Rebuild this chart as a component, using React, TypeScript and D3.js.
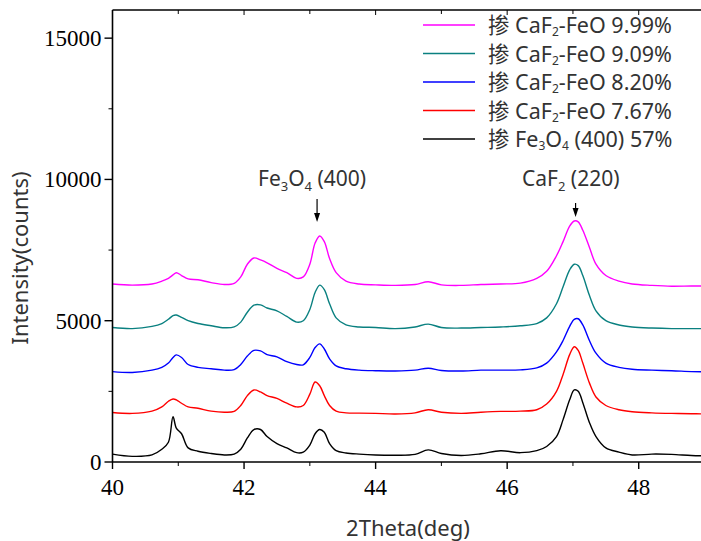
import React from "react";
import * as d3 from "d3";

const xs = [40, 40.3, 40.6, 40.75, 40.85, 40.92, 40.97, 41.05, 41.15, 41.3, 41.5, 41.7, 41.85, 41.95, 42.05, 42.15, 42.25, 42.35, 42.5, 42.65, 42.8, 42.9, 43.0, 43.08, 43.15, 43.22, 43.3, 43.4, 43.55, 43.75, 44.0, 44.3, 44.6, 44.8, 45.0, 45.3, 45.6, 45.9, 46.2, 46.45, 46.6, 46.75, 46.85, 46.95, 47.02, 47.08, 47.15, 47.25, 47.35, 47.5, 47.7, 47.9, 48.2, 48.5, 48.8, 49];

const blackVals = [280, 200, 250, 450, 700, 1600, 1200, 1000, 500, 380, 300, 250, 280, 450, 850, 1150, 1150, 900, 650, 500, 330, 350, 600, 1000, 1150, 1050, 650, 400, 320, 280, 250, 240, 270, 430, 300, 230, 290, 400, 330, 400, 550, 900, 1500, 2200, 2550, 2500, 2100, 1400, 900, 500, 350, 250, 280, 270, 230, 220];
const redVals = [1750, 1720, 1800, 1950, 2150, 2230, 2200, 2080, 1950, 1900, 1800, 1760, 1790, 2000, 2350, 2550, 2480, 2350, 2250, 2080, 1950, 2000, 2400, 2830, 2700, 2350, 2000, 1800, 1740, 1730, 1720, 1700, 1740, 1850, 1760, 1720, 1760, 1790, 1800, 1850, 2050, 2500, 3100, 3800, 4080, 3950, 3500, 2800, 2300, 2000, 1850, 1780, 1740, 1720, 1710, 1700];
const blueVals = [3200, 3170, 3250, 3350, 3500, 3700, 3790, 3700, 3450, 3350, 3300, 3250, 3270, 3450, 3750, 3950, 3930, 3800, 3720, 3550, 3450, 3440, 3700, 4050, 4180, 4000, 3650, 3400, 3300, 3250, 3230, 3220, 3250, 3320, 3240, 3220, 3250, 3250, 3260, 3330, 3500, 3900, 4300, 4800, 5050, 5070, 4850, 4300, 3850, 3500, 3350, 3280, 3250, 3230, 3200, 3190];
const tealVals = [4760, 4720, 4800, 4900, 5050, 5180, 5200, 5120, 5000, 4900, 4820, 4750, 4780, 4950, 5300, 5550, 5560, 5450, 5350, 5150, 4950, 5000, 5400, 6000, 6260, 6100, 5600, 5100, 4850, 4780, 4760, 4720, 4780, 4880, 4760, 4740, 4760, 4780, 4820, 4900, 5100, 5600, 6200, 6800, 7000, 6950, 6600, 5900, 5350, 5000, 4850, 4780, 4740, 4720, 4720, 4720];
const magentaVals = [6300, 6260, 6300, 6400, 6500, 6620, 6700, 6600, 6480, 6450, 6350, 6280, 6320, 6550, 7000, 7220, 7150, 7050, 6850, 6700, 6500, 6550, 7000, 7750, 8000, 7800, 7200, 6700, 6400, 6300, 6270, 6250, 6280, 6380, 6270, 6250, 6280, 6300, 6330, 6500, 6750, 7300, 7800, 8350, 8530, 8500, 8200, 7600, 7000, 6600, 6400, 6300, 6250, 6220, 6230, 6230];

const xTicks = [40, 42, 44, 46, 48];
const xMinor = [41, 43, 45, 47, 49];
const yTicks = [0, 5000, 10000, 15000];
const yMinor = [2500, 7500, 12500];

const legendItems = [
  { color: "#ff00ff", vals: magentaVals, parts: ["CaF", "2", "-FeO 9.99%"] },
  { color: "#0a8080", vals: tealVals, parts: ["CaF", "2", "-FeO 9.09%"] },
  { color: "#0000ff", vals: blueVals, parts: ["CaF", "2", "-FeO 8.20%"] },
  { color: "#ff0000", vals: redVals, parts: ["CaF", "2", "-FeO 7.67%"] },
  { color: "#000000", vals: blackVals, parts: ["Fe", "3", "O", "4", " (400) 57%"] },
];

const W = 701;
const H = 541;
const margin = { left: 112.5, right: 704.5, top: 10, bottom: 462 };

function Arrow({ x, y1, y2 }: { x: number; y1: number; y2: number }) {
  return (
    <g>
      <line x1={x} x2={x} y1={y1} y2={y2 - 8} stroke="#000" strokeWidth={1.2} />
      <path d={`M${x - 3},${y2 - 9} L${x + 3},${y2 - 9} L${x},${y2} Z`} fill="#000" />
    </g>
  );
}

export default function App() {
  const x = d3.scaleLinear().domain([40, 49]).range([margin.left, margin.right]);
  const y = d3.scaleLinear().domain([0, 16000]).range([margin.bottom, margin.bottom - 16000 / 35.39]);
  const line = d3
    .line<number>()
    .x((_, i) => x(xs[i]))
    .y((d) => y(d))
    .curve(d3.curveCatmullRom.alpha(0.5));

  const sans = "'Noto Sans', 'Noto Sans CJK SC', sans-serif";
  const serif = "'Liberation Serif', 'Times New Roman', serif";
  const drawOrder = [...legendItems].reverse();

  return (
    <svg width={W} height={H} style={{ position: "absolute", left: 0, top: 0, background: "#fff" }}>
      <defs>
        <clipPath id="clip">
          <rect x={margin.left} y={margin.top} width={margin.right - margin.left} height={margin.bottom - margin.top} />
        </clipPath>
      </defs>
      <g clipPath="url(#clip)">
        {drawOrder.map((s, k) => (
          <path key={k} d={line(s.vals) || ""} fill="none" stroke={s.color} strokeWidth={1.4} />
        ))}
      </g>
      <line x1={margin.left} x2={margin.left} y1={margin.top} y2={margin.bottom} stroke="#000" strokeWidth={1.6} />
      <line x1={margin.left} x2={W} y1={margin.bottom} y2={margin.bottom} stroke="#000" strokeWidth={1.6} />
      <line x1={margin.left} x2={W} y1={margin.top} y2={margin.top} stroke="#000" strokeWidth={1.6} />
      {xTicks.map((t) => (
        <g key={t}>
          <line x1={x(t)} x2={x(t)} y1={margin.bottom} y2={margin.bottom + 7} stroke="#000" strokeWidth={1.4} />
          <line x1={x(t)} x2={x(t)} y1={margin.top} y2={margin.top + 5} stroke="#000" strokeWidth={1} />
          <text x={x(t)} y={margin.bottom + 33} textAnchor="middle" fontFamily={serif} fontSize={23} fill="#000">
            {t}
          </text>
        </g>
      ))}
      {xMinor.map((t) => (
        <g key={t}>
          <line x1={x(t)} x2={x(t)} y1={margin.bottom} y2={margin.bottom + 4} stroke="#000" strokeWidth={1} />
          <line x1={x(t)} x2={x(t)} y1={margin.top} y2={margin.top + 4} stroke="#000" strokeWidth={1} />
        </g>
      ))}
      {yTicks.map((t) => (
        <g key={t}>
          <line x1={margin.left - 8} x2={margin.left} y1={y(t)} y2={y(t)} stroke="#000" strokeWidth={1.4} />
          <text x={margin.left - 11} y={y(t) + 8} textAnchor="end" fontFamily={serif} fontSize={23} fill="#000">
            {t}
          </text>
        </g>
      ))}
      {yMinor.map((t) => (
        <line key={t} x1={margin.left - 4} x2={margin.left} y1={y(t)} y2={y(t)} stroke="#000" strokeWidth={1} />
      ))}
      <text x={408} y={536} textAnchor="middle" fontFamily={sans} fontSize={22} fill="#333">
        2Theta(deg)
      </text>
      <text transform="translate(28,258) rotate(-90)" textAnchor="middle" fontFamily={sans} fontSize={22} fill="#333">
        Intensity(counts)
      </text>
      <text x={258} y={186} fontFamily={sans} fontSize={21} fill="#333">
        Fe<tspan fontSize={13} dy={5}>3</tspan>
        <tspan dy={-5}>O</tspan>
        <tspan fontSize={13} dy={5}>4</tspan>
        <tspan dy={-5}> (400)</tspan>
      </text>
      <Arrow x={x(43.11)} y1={199} y2={222} />
      <text x={522} y={186} fontFamily={sans} fontSize={21} fill="#333">
        CaF<tspan fontSize={13} dy={5}>2</tspan>
        <tspan dy={-5}> (220)</tspan>
      </text>
      <Arrow x={x(47.04)} y1={203} y2={217} />
      {legendItems.map((s, i) => {
        const ly = 25 + i * 28.5;
        return (
          <g key={i}>
            <line x1={423} x2={475} y1={ly} y2={ly} stroke={s.color} strokeWidth={1.4} />
            <text x={488} y={ly + 8} fontFamily={sans} fontSize={21.5} fill="#333">
              {"掺 " + s.parts[0]}
              <tspan fontSize={12} dy={3}>{s.parts[1]}</tspan>
              {s.parts.length > 3 ? (
                <>
                  <tspan dy={-3}>{s.parts[2]}</tspan>
                  <tspan fontSize={12} dy={3}>{s.parts[3]}</tspan>
                  <tspan dy={-3}>{s.parts[4]}</tspan>
                </>
              ) : (
                <tspan dy={-3}>{s.parts[2]}</tspan>
              )}
            </text>
          </g>
        );
      })}
    </svg>
  );
}
